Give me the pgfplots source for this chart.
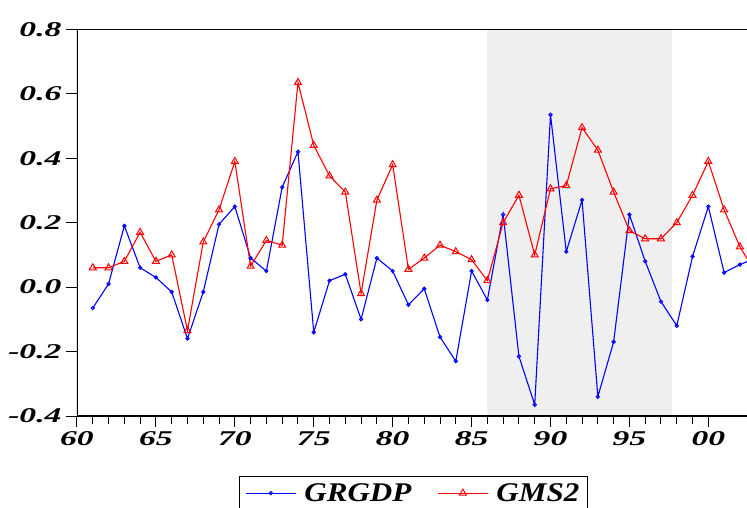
\documentclass[border=0pt]{standalone}
\usepackage{fontspec}
\setmainfont{Liberation Serif}
\newfontfamily\tickfont{Liberation Serif}[FakeStretch=1.6]
\newfontfamily\legfont{Liberation Serif}[FakeStretch=1.15]
\usepackage{pgfplots}
\pgfplotsset{compat=1.18}
\definecolor{bgshade}{RGB}{239,239,239}
\definecolor{myblue}{RGB}{0,0,255}
\definecolor{myred}{RGB}{255,0,0}
\begin{document}
\begin{tikzpicture}
\begin{axis}[
  scale only axis,
  width=670pt, height=386.7pt,
  xmin=60, xmax=102.45, ymin=-0.4, ymax=0.8,
  axis line style={draw=none},
  xtick={60,65,...,100},
  xticklabels={60,65,70,75,80,85,90,95,00},
  minor x tick num=4,
  ytick={-0.4,-0.2,0,0.2,0.4,0.6,0.8},
  yticklabels={-0.4,-0.2,0.0,0.2,0.4,0.6,0.8},
  xtick pos=bottom, ytick pos=left,
  tick align=outside,
  major tick length=11pt,
  minor tick length=8pt,
  tick style={black, line width=1pt},
  xticklabel style={font=\tickfont\bfseries\itshape\fontsize{21}{24}\selectfont, yshift=-1pt},
  yticklabel style={font=\tickfont\bfseries\itshape\fontsize{21}{24}\selectfont, xshift=-1pt},
  clip=true,
  legend columns=2,
  legend style={at={(0.502,-0.155)}, anchor=north, draw=black, line width=1pt,
    font=\legfont\bfseries\itshape\fontsize{27}{30}\selectfont,
    inner xsep=6pt, inner ysep=5pt,
    /tikz/every even column/.append style={column sep=24pt}},
  legend image code/.code={\draw[#1, mark repeat=2, mark phase=2] plot coordinates {(0pt,0pt) (25pt,0pt) (50pt,0pt)};},
]
\fill[bgshade] (axis cs:86,-0.4) rectangle (axis cs:97.7,0.8);
\addplot[myblue, line width=1.1pt, mark=o, mark size=1.6pt, mark options={line width=1pt}] coordinates {
(61,-0.065) (62,0.01) (63,0.19) (64,0.06) (65,0.03) (66,-0.015) (67,-0.16) (68,-0.015)
(69,0.195) (70,0.25) (71,0.09) (72,0.05) (73,0.31) (74,0.42) (75,-0.14) (76,0.02)
(77,0.04) (78,-0.10) (79,0.09) (80,0.05) (81,-0.055) (82,-0.005) (83,-0.155) (84,-0.23)
(85,0.05) (86,-0.04) (87,0.225) (88,-0.215) (89,-0.365) (90,0.535) (91,0.11) (92,0.27)
(93,-0.34) (94,-0.17) (95,0.225) (96,0.08) (97,-0.045) (98,-0.12) (99,0.095) (100,0.25)
(101,0.045) (102,0.07) (103,0.09)};
\addlegendentry{\hspace{6pt}GRGDP}
\addplot[myred, line width=1.1pt, mark=triangle, mark size=4pt, mark options={line width=1pt}] coordinates {
(61,0.06) (62,0.06) (63,0.08) (64,0.17) (65,0.08) (66,0.10) (67,-0.135) (68,0.14)
(69,0.24) (70,0.39) (71,0.065) (72,0.145) (73,0.13) (74,0.635) (75,0.44) (76,0.345)
(77,0.295) (78,-0.02) (79,0.27) (80,0.38) (81,0.055) (82,0.09) (83,0.13) (84,0.11)
(85,0.085) (86,0.02) (87,0.20) (88,0.285) (89,0.10) (90,0.305) (91,0.315) (92,0.495)
(93,0.425) (94,0.295) (95,0.175) (96,0.15) (97,0.15) (98,0.20) (99,0.285) (100,0.39)
(101,0.24) (102,0.125) (103,0.045)};
\addlegendentry{\hspace{6pt}GMS2}
\draw[black, line width=1.6pt] (rel axis cs:0,1) -- (rel axis cs:1,1);
\draw[black, line width=1.6pt] (rel axis cs:0,1) -- (rel axis cs:0,0) -- (rel axis cs:1,0);
\end{axis}
\pgfresetboundingbox
\path[use as bounding box] (-77pt,-91pt) rectangle (670pt,416pt);
\end{tikzpicture}
\end{document}
